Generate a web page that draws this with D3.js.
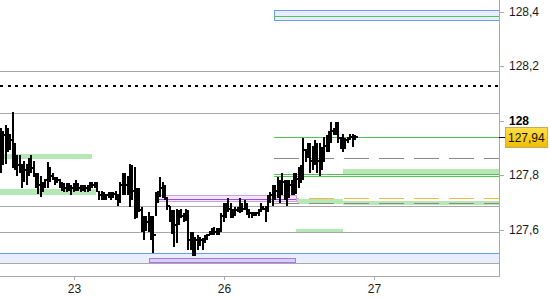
<!DOCTYPE html>
<html>
<head>
<meta charset="utf-8">
<script src="https://d3js.org/d3.v7.min.js"></script>
<style>
body { margin: 0; background: #fff; }
text { font-family: "Liberation Sans", Arial, sans-serif; font-size: 12px; fill: #1a1a1a; }
</style>
</head>
<body>
<div class="chart"></div>
<script>
const w = 550;
const h = 300;
const plotRight = 499;
const plotBottom = 276;

// 15 min bars, session time in days (22 = 0, 23 = 1, 26 = 2, 27 = 3)
const barStart = 0.513;
const barsPerDay = 64;

const highs = [127.971, 127.963, 127.982, 127.971, 127.952, 128.033, 127.916, 127.872, 127.872, 127.842,
  127.853, 127.842, 127.864, 127.872, 127.853, 127.806, 127.806, 127.798, 127.773, 127.787,
  127.846, 127.828, 127.809, 127.791, 127.791, 127.787, 127.773, 127.769, 127.769, 127.769,
  127.762, 127.769, 127.780, 127.769, 127.762, 127.765, 127.762, 127.765, 127.776, 127.773,
  127.773, 127.773, 127.743, 127.740, 127.736, 127.732, 127.736, 127.736, 127.736, 127.740,
  127.732, 127.773, 127.809, 127.809, 127.795, 127.842, 127.835, 127.828, 127.754, 127.754,
  127.681, 127.651, 127.651, 127.663, 127.651, 127.651, 127.736, 127.743, 127.791, 127.773,
  127.762, 127.718, 127.688, 127.670, 127.670, 127.677, 127.670, 127.677, 127.659, 127.677,
  127.670, 127.589, 127.589, 127.571, 127.578, 127.571, 127.567, 127.578, 127.585, 127.596,
  127.607, 127.611, 127.604, 127.604, 127.659, 127.696, 127.699, 127.714, 127.696, 127.677,
  127.681, 127.681, 127.714, 127.696, 127.707, 127.696, 127.670, 127.663, 127.663, 127.663,
  127.677, 127.696, 127.688, 127.688, 127.725, 127.736, 127.762, 127.762, 127.791, 127.780,
  127.809, 127.780, 127.780, 127.780, 127.780, 127.806, 127.806, 127.828, 127.835, 127.934,
  127.897, 127.916, 127.919, 127.908, 127.927, 127.919, 127.919, 127.901, 127.938, 127.945,
  127.963, 127.993, 127.974, 127.993, 127.993, 127.938, 127.952, 127.934, 127.938, 127.952,
  127.952, 127.945];

const lows = [127.809, 127.835, 127.842, 127.883, 127.890, 127.824, 127.817, 127.798, 127.809, 127.754,
  127.773, 127.762, 127.798, 127.809, 127.791, 127.751, 127.732, 127.718, 127.736, 127.751,
  127.751, 127.773, 127.780, 127.762, 127.769, 127.754, 127.743, 127.736, 127.736, 127.743,
  127.725, 127.736, 127.743, 127.743, 127.736, 127.743, 127.736, 127.736, 127.743, 127.754,
  127.754, 127.736, 127.707, 127.707, 127.707, 127.710, 127.714, 127.707, 127.714, 127.710,
  127.688, 127.696, 127.725, 127.725, 127.725, 127.681, 127.707, 127.640, 127.644, 127.663,
  127.589, 127.560, 127.596, 127.589, 127.560, 127.515, 127.651, 127.696, 127.718, 127.714,
  127.707, 127.670, 127.626, 127.585, 127.534, 127.552, 127.615, 127.644, 127.626, 127.633,
  127.523, 127.523, 127.504, 127.501, 127.523, 127.541, 127.523, 127.552, 127.560, 127.578,
  127.578, 127.578, 127.578, 127.578, 127.589, 127.626, 127.644, 127.663, 127.644, 127.644,
  127.651, 127.663, 127.659, 127.663, 127.670, 127.655, 127.644, 127.644, 127.648, 127.648,
  127.651, 127.663, 127.670, 127.626, 127.663, 127.699, 127.688, 127.707, 127.714, 127.699,
  127.725, 127.707, 127.688, 127.714, 127.725, 127.725, 127.732, 127.754, 127.769, 127.780,
  127.846, 127.861, 127.809, 127.817, 127.835, 127.809, 127.798, 127.817, 127.846, 127.883,
  127.883, 127.919, 127.945, 127.945, 127.919, 127.897, 127.883, 127.897, 127.916, 127.927,
  127.901, 127.927];

const closes = [127.927, 127.945, 127.927, 127.927, 127.927, 127.890, 127.853, 127.835, 127.824, 127.798,
  127.817, 127.835, 127.853, 127.824, 127.798, 127.780, 127.762, 127.743, 127.762, 127.780,
  127.817, 127.798, 127.787, 127.780, 127.780, 127.762, 127.754, 127.751, 127.758, 127.751,
  127.754, 127.762, 127.758, 127.754, 127.751, 127.754, 127.751, 127.762, 127.765, 127.765,
  127.762, 127.736, 127.725, 127.721, 127.721, 127.725, 127.721, 127.725, 127.729, 127.721,
  127.725, 127.762, 127.780, 127.762, 127.780, 127.798, 127.743, 127.707, 127.688, 127.670,
  127.633, 127.615, 127.626, 127.615, 127.596, 127.578, 127.714, 127.725, 127.751, 127.736,
  127.714, 127.688, 127.663, 127.633, 127.615, 127.651, 127.663, 127.651, 127.651, 127.651,
  127.560, 127.560, 127.541, 127.560, 127.560, 127.560, 127.560, 127.567, 127.578, 127.589,
  127.596, 127.589, 127.596, 127.596, 127.651, 127.670, 127.688, 127.677, 127.670, 127.670,
  127.670, 127.677, 127.688, 127.677, 127.688, 127.670, 127.659, 127.655, 127.655, 127.659,
  127.670, 127.681, 127.677, 127.670, 127.707, 127.725, 127.743, 127.743, 127.762, 127.762,
  127.773, 127.762, 127.751, 127.762, 127.769, 127.780, 127.787, 127.798, 127.817, 127.890,
  127.872, 127.872, 127.853, 127.872, 127.890, 127.853, 127.835, 127.872, 127.908, 127.927,
  127.945, 127.963, 127.963, 127.971, 127.934, 127.927, 127.927, 127.927, 127.934, 127.938,
  127.934, 127.940];

const dayTicks = [1, 2, 3];
const dayLabels = ["23", "26", "27"];
const priceTicks = [127.6, 127.8, 128, 128.2, 128.4];
const lastPrice = 127.94;

// horizontal levels
const greyLevels = [128.183, 128.029, 127.688, 127.589, 127.478];
const dottedLevel = 128.125;
const levelsFrom = 2.333;
const greenLevels = [128.385, 127.938, 127.804, 127.798];
const greyDashLevels = [127.864, 127.699];
const orangeDashLevels = [127.715];

// zones: [from, to, low, high]  (null = chart edge)
const blueZones = [[2.333, null, 128.367, 128.404], [null, null, 127.478, 127.514]];
const purpleZones = [[1.547, 2.48, 127.705, 127.727]];
const purpleZones2 = [[1.5, 2.473, 127.479, 127.496]];
const purpleLine = [1.547, 2.48, 127.713];
const greenZones = [
  [null, 1.113, 127.861, 127.879],
  [null, 1.14, 127.732, 127.754],
  [2.787, null, 127.809, 127.824],
  [2.48, 2.787, 127.699, 127.714],
  [2.787, null, 127.692, 127.710],
  [2.473, 2.787, 127.593, 127.607]
];

const svg = d3.select(".chart")
  .append("svg")
  .attr("width", w)
  .attr("height", h)
  .style("display", "block");

const x = d3.scaleLinear().domain([1, 3]).range([74, 374]);
const y = d3.scaleLinear().domain([127.6, 128.4]).range([229.5, 11.5]);

const px = (t, def) => t === null ? def : Math.round(x(t));
const py = (v) => Math.round(y(v)) + 0.5;

svg.append("defs").append("clipPath").attr("id", "plot")
  .append("rect").attr("x", 0).attr("y", 0).attr("width", plotRight).attr("height", plotBottom);

const plot = svg.append("g").attr("clip-path", "url(#plot)").attr("shape-rendering", "crispEdges");

function zones(data, fill, stroke) {
  plot.append("g").selectAll("rect")
    .data(data)
    .join("rect")
    .attr("x", d => px(d[0], -2) + 0.5)
    .attr("y", d => py(d[3]))
    .attr("width", d => px(d[1], plotRight + 2) - px(d[0], -2))
    .attr("height", d => py(d[2]) - py(d[3]))
    .attr("fill", fill)
    .attr("stroke", stroke);
}

zones(blueZones, "#e8eefd", "#6b9cf2");
zones(purpleZones2, "#d8cdf5", "#a67ce0");
zones(greenZones, "#b5e8b5", "none");

function levels(data, from, color, dash, width) {
  plot.append("g").selectAll("line")
    .data(data)
    .join("line")
    .attr("x1", px(from, 0))
    .attr("x2", plotRight)
    .attr("y1", d => py(d))
    .attr("y2", d => py(d))
    .attr("stroke", color)
    .attr("stroke-width", width || 1)
    .attr("stroke-dasharray", dash);
}

levels(greyLevels, null, "#a8a8a8");
levels(greyDashLevels, levelsFrom, "#8a8a8a", "25,10");
levels(orangeDashLevels, levelsFrom, "#f5b840", "25,10");
levels(greenLevels, levelsFrom, "#52c452");

plot.append("line")
  .attr("x1", 0).attr("x2", plotRight)
  .attr("y1", Math.round(y(dottedLevel))).attr("y2", Math.round(y(dottedLevel)))
  .attr("stroke", "#000").attr("stroke-width", 2)
  .attr("stroke-dasharray", "3,4.5");

zones(purpleZones, "#f2e6fb", "#cb9dea");
plot.append("line")
  .attr("x1", px(purpleLine[0])).attr("x2", px(purpleLine[1]))
  .attr("y1", py(purpleLine[2])).attr("y2", py(purpleLine[2]))
  .attr("stroke", "#9a4fd0");

// bars
const bars = highs.map((hi, i) => ({ t: barStart + i / barsPerDay, hi: hi, lo: lows[i], c: closes[i] }));

plot.append("g").selectAll("rect")
  .data(bars)
  .join("rect")
  .attr("x", d => Math.round(x(d.t)) - 1)
  .attr("y", d => Math.round(y(d.hi)))
  .attr("width", 2)
  .attr("height", d => Math.max(2, Math.round(y(d.lo)) - Math.round(y(d.hi))))
  .attr("fill", "#000");

plot.append("g").selectAll("rect")
  .data(bars)
  .join("rect")
  .attr("x", d => Math.round(x(d.t)) + 1)
  .attr("y", d => Math.round(y(d.c)) - 1)
  .attr("width", 2)
  .attr("height", 2)
  .attr("fill", "#000");

// frame
const frame = svg.append("g").attr("shape-rendering", "crispEdges");
frame.append("line")
  .attr("x1", plotRight + 0.5).attr("x2", plotRight + 0.5)
  .attr("y1", 0).attr("y2", plotBottom + 1)
  .attr("stroke", "#aaa");
frame.append("line")
  .attr("x1", 0).attr("x2", plotRight + 1)
  .attr("y1", plotBottom + 0.5).attr("y2", plotBottom + 0.5)
  .attr("stroke", "#aaa");

// x axis
frame.selectAll("line.xt")
  .data(dayTicks)
  .join("line")
  .attr("class", "xt")
  .attr("x1", d => Math.round(x(d)) + 0.5).attr("x2", d => Math.round(x(d)) + 0.5)
  .attr("y1", plotBottom).attr("y2", plotBottom + 4)
  .attr("stroke", "#aaa");

svg.selectAll("text.xl")
  .data(dayTicks)
  .join("text")
  .attr("class", "xl")
  .attr("x", d => x(d) + 0.5)
  .attr("y", 293)
  .attr("text-anchor", "middle")
  .text((d, i) => dayLabels[i]);

// y axis
frame.selectAll("line.yt")
  .data(priceTicks)
  .join("line")
  .attr("class", "yt")
  .attr("x1", plotRight).attr("x2", plotRight + 5)
  .attr("y1", d => py(d)).attr("y2", d => py(d))
  .attr("stroke", "#aaa");

svg.selectAll("text.yl")
  .data(priceTicks)
  .join("text")
  .attr("class", "yl")
  .attr("x", 509)
  .attr("y", d => y(d))
  .attr("dy", "0.35em")
  .style("font-weight", d => d === 128 ? "bold" : null)
  .style("fill", d => d === 128 ? "#000" : null)
  .text(d => String(d).replace(".", ","));

// last price marker
const grad = svg.select("defs").append("linearGradient")
  .attr("id", "gold").attr("x1", 0).attr("x2", 0).attr("y1", 0).attr("y2", 1);
grad.append("stop").attr("offset", 0).attr("stop-color", "#ffe04a");
grad.append("stop").attr("offset", 1).attr("stop-color", "#f0bc00");

const ly = Math.round(y(lastPrice));
frame.append("line")
  .attr("x1", plotRight).attr("x2", 506)
  .attr("y1", ly + 0.5).attr("y2", ly + 0.5)
  .attr("stroke", "#000");
frame.append("rect")
  .attr("x", 505.5).attr("y", ly - 9.5)
  .attr("width", 42).attr("height", 20)
  .attr("fill", "url(#gold)")
  .attr("stroke", "#c4aa60");
svg.append("text")
  .attr("x", 508)
  .attr("y", ly + 0.5)
  .attr("dy", "0.35em")
  .style("fill", "#111")
  .text(String(lastPrice).replace(".", ","));
</script>
</body>
</html>
